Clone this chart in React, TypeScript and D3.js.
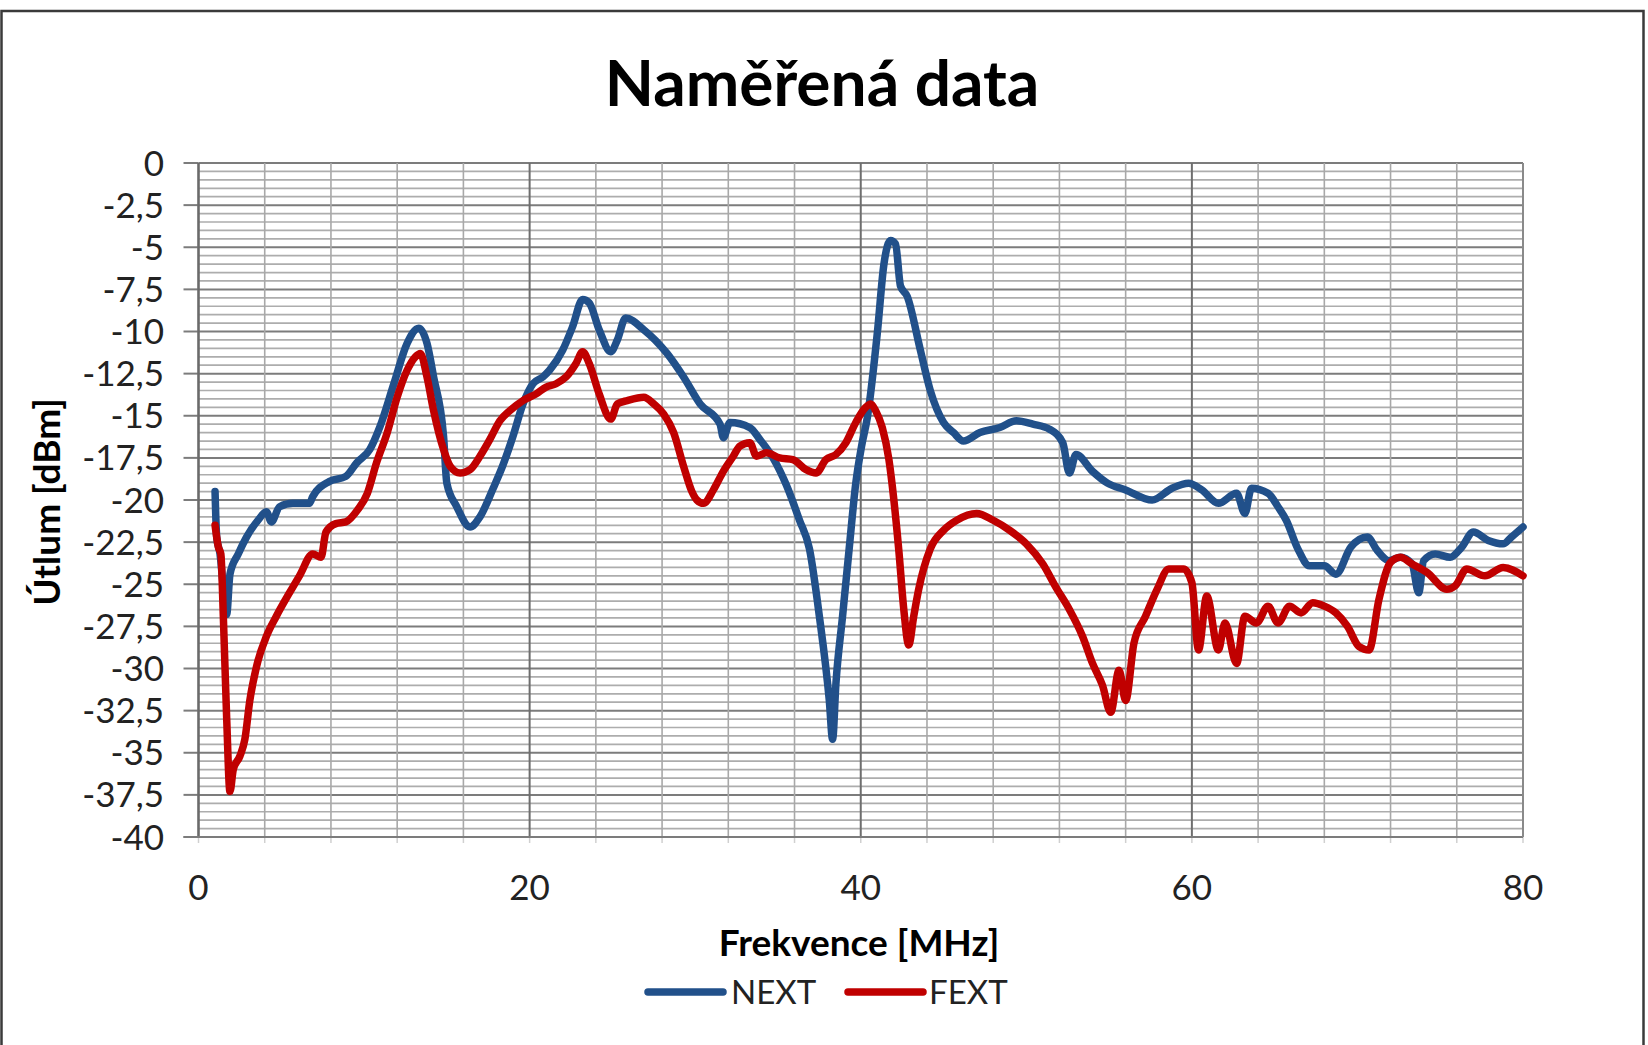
import * as d3 from 'd3';

const WIDTH = 1648;
const HEIGHT = 1045;
const PLOT = { left: 198.5, right: 1523, top: 163, bottom: 837 };

const FONT = 'Lato, "Open Sans", sans-serif';
const NEXT_COLOR = '#21508a';
const FEXT_COLOR = '#c00000';

// frequency [MHz] / attenuation [dBm]
const nextFreq = [
  1.0, 1.1, 1.3, 1.5, 1.7, 1.9, 2.4, 2.9, 3.6, 4.1, 4.4, 4.9, 5.7, 6.7, 6.9, 7.9, 8.9, 9.55, 10.35, 10.96,
  11.8, 12.6, 13.3, 13.8, 14.2, 14.8, 15.0, 15.6, 16.4, 17.0, 17.8, 18.4, 19.0, 19.6, 20.2, 20.8, 21.2, 22.0,
  22.6, 23.2, 23.6, 24.2, 24.9, 25.3, 25.8, 26.9, 28.3, 29.3, 30.3, 31.5, 31.7, 32.1, 33.3, 33.9, 34.7, 35.5,
  36.3, 36.9, 37.5, 38.1, 38.3, 38.5, 38.9, 39.3, 39.7, 40.05, 40.4, 41.0, 41.4, 41.8, 42.1, 42.4, 42.8, 43.6,
  44.2, 45.0, 45.6, 46.2, 47.2, 48.4, 49.4, 50.4, 51.4, 52.2, 52.6, 53.0, 54.0, 54.9, 56.0, 57.6, 58.8, 59.8,
  60.6, 61.6, 62.7, 63.2, 63.6, 64.6, 65.2, 65.7, 66.4, 67.1, 68.0, 68.7, 69.6, 70.6, 71.2, 71.9, 72.6, 73.3,
  73.7, 74.0, 74.7, 75.6, 76.3, 77.0, 77.9, 78.8, 79.3, 80.0,
];
const nextVal = [
  -19.5, -22.2, -23.2, -25.2, -26.8, -24.4, -23.2, -22.2, -21.2, -20.7, -21.3, -20.4, -20.2, -20.2, -19.8, -18.9,
  -18.6, -17.8, -17.0, -15.65, -13.1, -10.7, -9.8, -10.7, -12.7, -16.2, -19.0, -20.4, -21.6, -21.0, -19.3, -17.9,
  -16.2, -14.3, -13.1, -12.7, -12.3, -11.1, -9.7, -8.1, -8.3, -9.9, -11.2, -10.5, -9.2, -9.9, -11.3, -12.7,
  -14.3, -15.5, -16.3, -15.4, -15.7, -16.4, -17.5, -19.1, -21.2, -22.9, -26.9, -31.9, -34.2, -30.9, -26.9, -22.9,
  -19.0, -16.8, -15.1, -10.1, -6.0, -4.6, -4.8, -7.3, -7.9, -11.1, -13.5, -15.4, -16.0, -16.5, -16.0, -15.7,
  -15.3, -15.5, -15.8, -16.6, -18.4, -17.3, -18.3, -19.0, -19.4, -20.0, -19.3, -19.0, -19.4, -20.2, -19.6, -20.8,
  -19.3, -19.6, -20.4, -21.2, -22.9, -23.9, -23.9, -24.4, -22.8, -22.2, -23.0, -23.6, -23.4, -23.8, -25.5, -23.6,
  -23.2, -23.4, -22.8, -21.9, -22.4, -22.6, -22.2, -21.6,
];

const fextFreq = [
  1.0, 1.2, 1.35, 1.5, 1.7, 1.9, 2.1, 2.5, 2.8, 3.1, 3.5, 4.1, 4.7, 5.5, 6.1, 6.9, 7.4, 7.7, 8.3, 8.9, 9.6,
  10.2, 10.75, 11.4, 12.0, 12.6, 13.1, 13.4, 13.8, 14.2, 14.8, 15.2, 15.8, 16.4, 17.0, 17.6, 18.2, 18.8, 19.6,
  20.4, 21.0, 21.6, 22.2, 22.8, 23.2, 23.6, 24.2, 24.9, 25.3, 25.9, 26.9, 27.5, 28.1, 28.7, 29.3, 29.8, 30.1,
  30.5, 31.1, 31.7, 32.3, 32.7, 33.3, 33.7, 34.3, 35.1, 35.9, 36.7, 37.3, 37.9, 38.5, 39.1, 39.7, 40.3, 40.6,
  40.9, 41.3, 41.7, 42.0, 42.3, 42.6, 42.9, 43.2, 43.5, 44.2, 45.0, 45.8, 47.0, 48.0, 49.0, 50.0, 51.0, 51.8,
  52.6, 53.4, 54.0, 54.6, 55.1, 55.6, 56.0, 56.5, 57.2, 57.9, 58.6, 59.5, 60.0, 60.4, 60.9, 61.6, 62.0, 62.7,
  63.2, 63.9, 64.6, 65.2, 65.9, 66.6, 67.3, 68.0, 68.7, 69.4, 70.1, 70.7, 71.3, 72.0, 72.6, 73.3, 74.2, 75.4,
  75.9, 76.6, 77.7, 78.8, 80.0,
];
const fextVal = [
  -21.5, -22.8, -23.2, -26.9, -32.9, -37.3, -36.0, -35.2, -34.2, -31.9, -29.9, -28.1, -26.9, -25.5, -24.5, -23.2,
  -23.4, -21.9, -21.4, -21.3, -20.6, -19.6, -17.8, -16.0, -13.9, -12.3, -11.5, -11.3, -12.7, -14.7, -17.0, -18.0,
  -18.4, -18.2, -17.4, -16.4, -15.3, -14.7, -14.1, -13.7, -13.3, -13.1, -12.7, -11.9, -11.2, -11.9, -13.7, -15.2,
  -14.3, -14.1, -13.9, -14.3, -14.9, -16.0, -18.0, -19.5, -20.0, -20.2, -19.4, -18.3, -17.4, -16.8, -16.6, -17.4,
  -17.2, -17.5, -17.6, -18.2, -18.4, -17.6, -17.3, -16.6, -15.4, -14.5, -14.3, -14.7, -15.7, -17.6, -20.0, -23.0,
  -26.5, -28.6, -26.9, -25.3, -22.9, -21.8, -21.2, -20.8, -21.2, -21.8, -22.6, -23.8, -25.2, -26.5, -28.1, -29.7,
  -31.0, -32.6, -30.1, -31.9, -28.5, -26.9, -25.3, -24.1, -24.1, -24.9, -28.9, -25.7, -28.9, -27.3, -29.7, -26.9,
  -27.3, -26.3, -27.3, -26.3, -26.7, -26.1, -26.3, -26.7, -27.5, -28.7, -28.9, -25.9, -23.7, -23.4, -23.8, -24.3,
  -25.3, -25.1, -24.1, -24.5, -24.0, -24.5,
];

const xTicks = [0, 20, 40, 60, 80];
const yTicks = d3.range(0, 17).map((i) => -i * 2.5);
const xMinor = d3.range(0, 81, 4);
const yMinor = d3.range(0, 81).map((i) => -i * 0.5);

const series = [
  { name: 'NEXT', color: NEXT_COLOR, freq: nextFreq, val: nextVal },
  { name: 'FEXT', color: FEXT_COLOR, freq: fextFreq, val: fextVal },
];

const czFormat = d3.formatLocale({
  decimal: ',',
  thousands: ' ',
  grouping: [3],
  currency: ['', ''],
  minus: '-',
}).format('~g');

export default function App() {
  const x = d3.scaleLinear().domain([0, 80]).range([PLOT.left, PLOT.right]);
  const y = d3.scaleLinear().domain([-40, 0]).range([PLOT.bottom, PLOT.top]);

  const gen = d3
    .line<[number, number]>()
    .x((d) => x(d[0]))
    .y((d) => y(d[1]))
    .curve(d3.curveMonotoneX);

  const paths = series.map((s) => {
    const pts = s.freq.map((f, i) => [f, s.val[i]] as [number, number]);
    return { ...s, d: gen(pts) ?? '' };
  });

  return (
    <svg
      width={WIDTH}
      height={HEIGHT}
      viewBox={`0 0 ${WIDTH} ${HEIGHT}`}
      style={{ position: 'absolute', left: 0, top: 0, background: '#fff' }}
      fontFamily={FONT}
    >
      <rect x={0} y={0} width={WIDTH} height={HEIGHT} fill="#fff" />
      {/* outer chart frame */}
      <rect x={1.5} y={11} width={1642} height={1060} fill="none" stroke="#3a3a3a" strokeWidth={2.5} />

      {/* title */}
      <text x={822} y={106} textAnchor="middle" fontSize={64} fontWeight={700} fill="#000">
        Naměřená data
      </text>

      {/* horizontal grid, major every 2.5 */}
      {yMinor.map((v, i) => (
        <line
          key={`hy${i}`}
          x1={PLOT.left}
          x2={PLOT.right}
          y1={y(v)}
          y2={y(v)}
          stroke={i % 5 === 0 ? '#7c7c7c' : '#adadad'}
          strokeWidth={i % 5 === 0 ? 2 : 1.7}
        />
      ))}
      {/* vertical grid */}
      {xMinor.map((v) => (
        <line
          key={`vx${v}`}
          x1={x(v)}
          x2={x(v)}
          y1={PLOT.top}
          y2={PLOT.bottom}
          stroke={v % 20 === 0 ? '#6e6e6e' : '#a8a8a8'}
          strokeWidth={v % 20 === 0 ? 2 : 1.6}
        />
      ))}

      {/* y major ticks outside the plot */}
      {yTicks.map((t) => (
        <line key={`yt${t}`} x1={PLOT.left - 15} x2={PLOT.left} y1={y(t)} y2={y(t)} stroke="#7c7c7c" strokeWidth={2} />
      ))}
      {xMinor.map((v) => (
        <line key={`xt${v}`} x1={x(v)} x2={x(v)} y1={PLOT.bottom} y2={PLOT.bottom + 6} stroke="#d0d0d0" strokeWidth={1.5} />
      ))}

      {/* axis lines */}
      <line x1={PLOT.left} x2={PLOT.left} y1={PLOT.top} y2={PLOT.bottom} stroke="#6a6a6a" strokeWidth={2.2} />
      <line x1={PLOT.left - 15} x2={PLOT.right} y1={PLOT.bottom} y2={PLOT.bottom} stroke="#7c7c7c" strokeWidth={2.2} />
      <line x1={PLOT.right} x2={PLOT.right} y1={PLOT.top} y2={PLOT.bottom} stroke="#8a8a8a" strokeWidth={2} />

      {/* y tick labels */}
      {yTicks.map((t) => (
        <text key={`yl${t}`} x={164} y={y(t)} dy="0.36em" textAnchor="end" fontSize={35} fill="#222">
          {czFormat(t)}
        </text>
      ))}
      {/* x tick labels */}
      {xTicks.map((t) => (
        <text key={`xl${t}`} x={x(t)} y={900} textAnchor="middle" fontSize={35} fill="#222">
          {t}
        </text>
      ))}

      {/* data lines */}
      {paths.map((p) => (
        <path
          key={p.name}
          d={p.d}
          fill="none"
          stroke={p.color}
          strokeWidth={7.5}
          strokeLinejoin="round"
          strokeLinecap="round"
        />
      ))}

      {/* axis titles */}
      <text x={859} y={956} textAnchor="middle" fontSize={37} fontWeight={700} fill="#000">
        Frekvence [MHz]
      </text>
      <text
        transform={`translate(60,502) rotate(-90)`}
        textAnchor="middle"
        fontSize={37}
        fontWeight={700}
        fill="#000"
      >
        Útlum [dBm]
      </text>

      {/* legend */}
      <g>
        <line x1={648} x2={723} y1={992} y2={992} stroke={NEXT_COLOR} strokeWidth={7.5} strokeLinecap="round" />
        <text x={731} y={1004} fontSize={33} fill="#222">NEXT</text>
        <line x1={848} x2={923} y1={992} y2={992} stroke={FEXT_COLOR} strokeWidth={7.5} strokeLinecap="round" />
        <text x={929} y={1004} fontSize={33} fill="#222">FEXT</text>
      </g>
    </svg>
  );
}
